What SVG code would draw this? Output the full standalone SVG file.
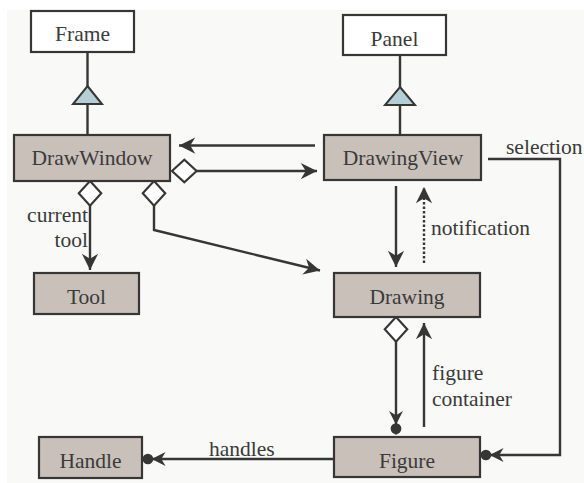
<svg xmlns="http://www.w3.org/2000/svg" width="584" height="483" viewBox="0 0 584 483">
<style>
.bg{fill:#f9f9f7}
.box{stroke:#363636;stroke-width:2.2}
.white{fill:#ffffff}
.gray{fill:#c9c0ba}
.tri{fill:#b6ced5;stroke:#363636;stroke-width:2}
.c{text-anchor:middle}
.e{text-anchor:end}
.ln{fill:none;stroke:#363636;stroke-width:2.4}
.dot{stroke-dasharray:2.5 2}
</style>
<defs>
<marker id="arr" markerUnits="userSpaceOnUse" markerWidth="20" markerHeight="20" viewBox="-14 -8 16 16" refX="0" refY="0" orient="auto" overflow="visible">
<path d="M0,0 L-13,-6.5 L-9,0 L-13,6.5 Z" fill="#363636"/>
</marker>
<marker id="dotarr" markerUnits="userSpaceOnUse" markerWidth="30" markerHeight="20" viewBox="-26 -8 28 16" refX="0" refY="0" orient="auto" overflow="visible">
<circle cx="-5.5" cy="0" r="5" fill="#363636"/>
<path d="M-9,0 L-22,-6.5 L-18,0 L-22,6.5 Z" fill="#363636"/>
</marker>
<marker id="dia" markerUnits="userSpaceOnUse" markerWidth="30" markerHeight="30" viewBox="-2 -12 28 24" refX="0" refY="0" orient="auto" overflow="visible">
<path d="M0,0 L11.5,-10.5 L23,0 L11.5,10.5 Z" fill="#ffffff" stroke="#363636" stroke-width="2"/>
</marker>
</defs>
<rect x="0" y="0" width="584" height="483" fill="#ffffff"/>
<rect class="bg" x="7" y="10" width="577" height="473"/>

<g id="connectors">
<line class="ln" x1="87.5" y1="52" x2="87.5" y2="86"/>
<line class="ln" x1="87.5" y1="104" x2="87.5" y2="135"/>
<polygon class="tri" points="87.5,86 102,104 73,104"/>
<line class="ln" x1="400" y1="55" x2="400" y2="87"/>
<line class="ln" x1="400" y1="105" x2="400" y2="135"/>
<polygon class="tri" points="400,87 415,105 385,105"/>
<line class="ln" x1="315" y1="145.5" x2="179" y2="145.5" marker-end="url(#arr)"/>
<line class="ln" x1="172" y1="171" x2="317" y2="171" marker-start="url(#dia)" marker-end="url(#arr)"/>
<line class="ln" x1="90" y1="181" x2="90" y2="270" marker-start="url(#dia)" marker-end="url(#arr)"/>
<polyline class="ln" points="154,181 154,230 320,270.5" marker-start="url(#dia)" marker-end="url(#arr)"/>
<line class="ln" x1="396" y1="186" x2="396" y2="267" marker-end="url(#arr)"/>
<line class="ln dot" x1="424" y1="263" x2="424" y2="187" marker-end="url(#arr)"/>
<line class="ln" x1="396" y1="317" x2="396" y2="434.5" marker-start="url(#dia)" marker-end="url(#dotarr)"/>
<line class="ln" x1="424" y1="427" x2="424" y2="323" marker-end="url(#arr)"/>
<line class="ln" x1="334" y1="459" x2="142" y2="459" marker-end="url(#dotarr)"/>
<polyline class="ln" points="488,159 560,159 560,455 480,455" marker-end="url(#dotarr)"/>
</g>

<g font-family="Liberation Serif, Times New Roman, DejaVu Serif, serif" font-size="21.5" fill="#3a3a3a">
<g id="labels">
<text x="506" y="154">selection</text>
<text class="e" x="88" y="222">current</text>
<text class="e" x="88" y="247">tool</text>
<text x="431" y="235">notification</text>
<text x="432" y="380">figure</text>
<text x="432" y="406">container</text>
<text x="209" y="456">handles</text>
</g>

<g id="Frame"><rect class="box white" x="31" y="11" width="103" height="41"/><text class="c" x="82.5" y="41">Frame</text></g>
<g id="Panel"><rect class="box white" x="343" y="15" width="103" height="40"/><text class="c" x="394.5" y="45.5">Panel</text></g>
<g id="DrawWindow"><rect class="box gray" x="14" y="135" width="156" height="46"/><text class="c" x="92" y="165">DrawWindow</text></g>
<g id="DrawingView"><rect class="box gray" x="324" y="135" width="157" height="45"/><text class="c" x="403" y="165">DrawingView</text></g>
<g id="Tool"><rect class="box gray" x="34" y="273" width="105" height="41"/><text class="c" x="86.5" y="304">Tool</text></g>
<g id="Drawing"><rect class="box gray" x="334" y="273" width="146" height="44"/><text class="c" x="407" y="304">Drawing</text></g>
<g id="Handle"><rect class="box gray" x="39" y="437" width="103" height="41"/><text class="c" x="90.5" y="467.5">Handle</text></g>
<g id="Figure"><rect class="box gray" x="334" y="437" width="146" height="40"/><text class="c" x="407" y="467.5">Figure</text></g>
</g>
</svg>
